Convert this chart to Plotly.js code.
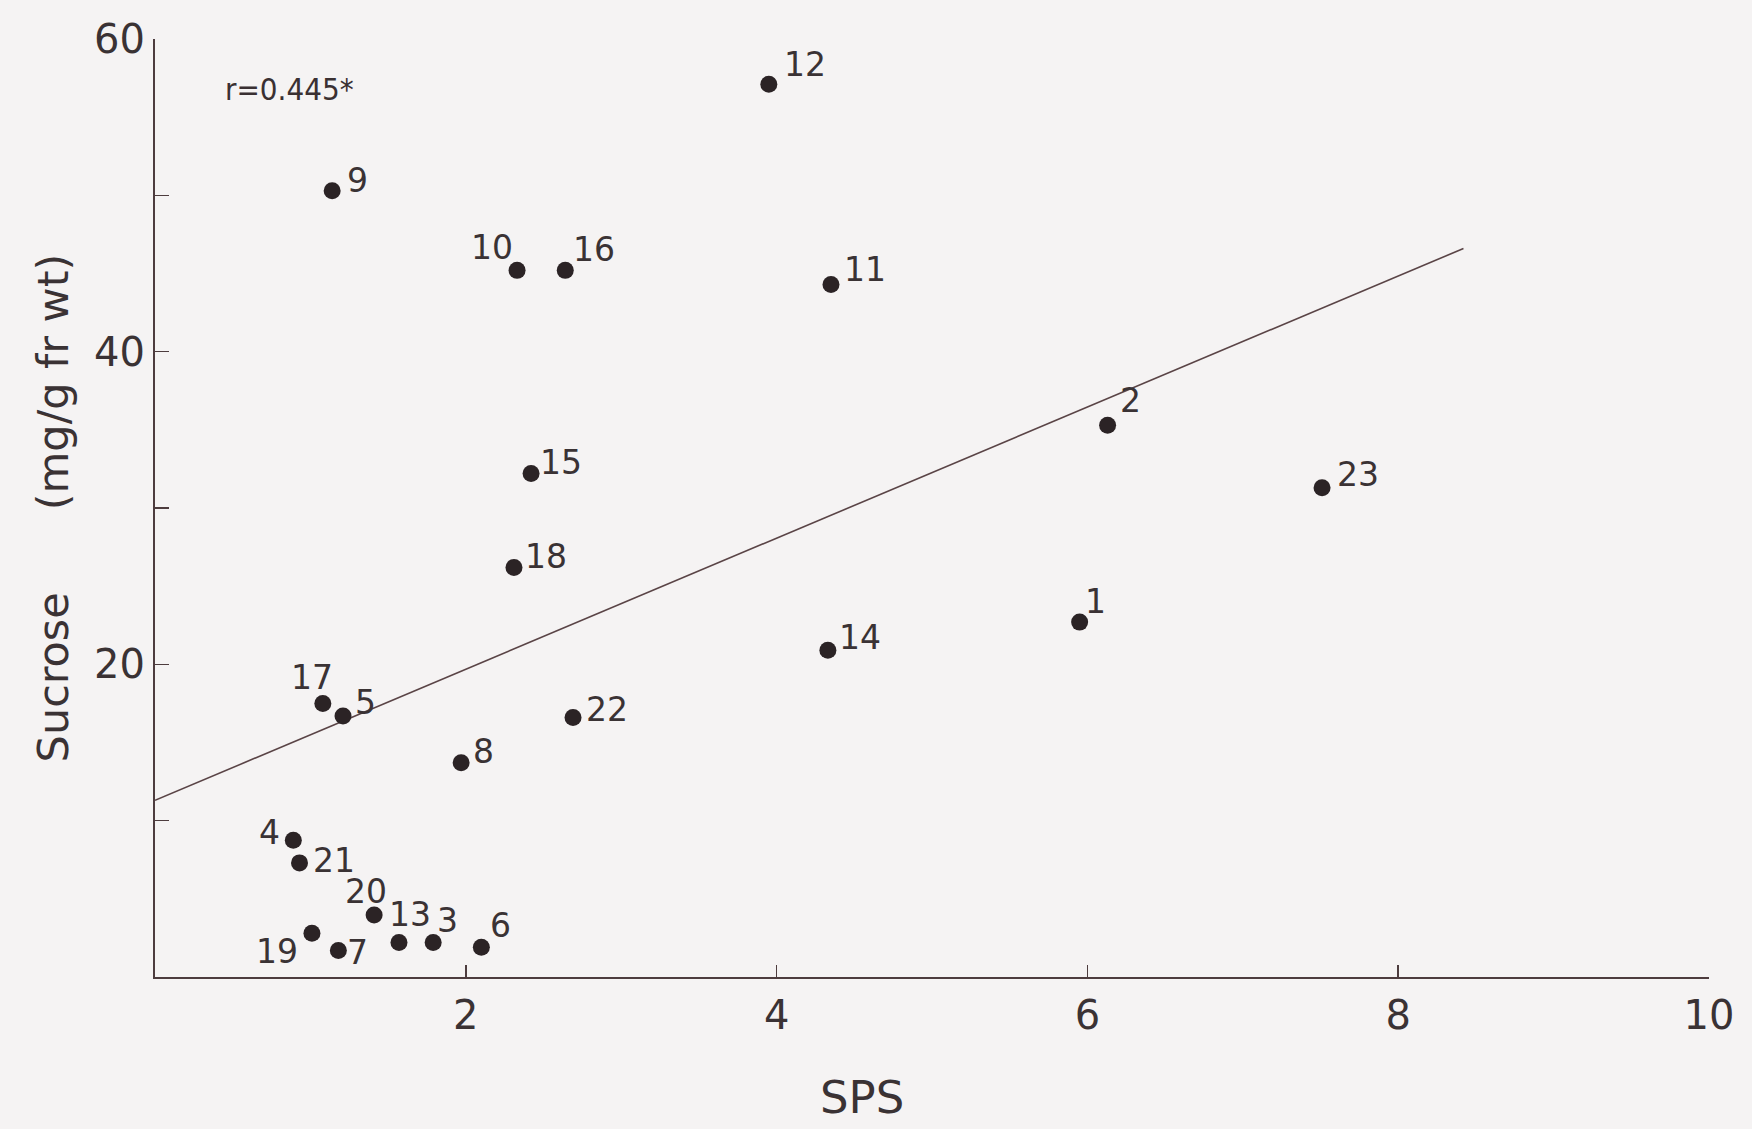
<!DOCTYPE html>
<html>
<head>
<meta charset="utf-8">
<script src="https://cdn.plot.ly/plotly-3.0.1.min.js"></script>
<style>
  html, body { margin: 0; padding: 0; background: #f5f3f3; }
  #chart { width: 1752px; height: 1129px; }
</style>
</head>
<body>
<div id="chart"></div>
<script>
// Sample numbers and their SPS / sucrose readings
const sampleIds = ['1','2','3','4','5','6','7','8','9','10','11','12','13','14','15','16','17','18','19','20','21','22','23'];
const spsValues = [5.95, 6.13, 1.79, 0.89, 1.21, 2.10, 1.18, 1.97, 1.14, 2.33, 4.35, 3.95, 1.57, 4.33, 2.42, 2.64, 1.08, 2.31, 1.01, 1.41, 0.93, 2.69, 7.51];
const sucroseValues = [22.7, 35.3, 2.2, 8.75, 16.7, 1.9, 1.7, 13.7, 50.3, 45.2, 44.3, 57.1, 2.2, 20.9, 32.2, 45.2, 17.5, 26.2, 2.8, 3.96, 7.3, 16.6, 31.3];

// Regression line end points
const fitSps = [0, 8.42];
const fitSucrose = [11.3, 46.6];

const correlationText = 'r=0.445*';
const xTitle = 'SPS';
const yTitle = 'Sucrose' + '\u00a0'.repeat(6) + '(mg/g fr wt)';

// Placement of each sample number next to its dot: [anchor, dx, dy] in px (dy downwards)
const labelPlacement = [
  ['left', 4, -21], ['left', 11, -25], ['left', 3, -22], ['right', -12, -8],
  ['left', 11, -13], ['left', 8, -22], ['left', 8, 2], ['left', 11, -11],
  ['left', 14, -10], ['right', -3, -23], ['left', 12, -15], ['left', 14, -20],
  ['left', -11, -28], ['left', 10, -13], ['left', 8, -11], ['left', 7, -21],
  ['right', 11, -26], ['left', 10, -11], ['right', -13, 18], ['center', -8, -24],
  ['left', 12, -2], ['left', 12, -8], ['left', 14, -13]
];

const ink = '#2b2325';
const axisInk = '#4d3c3e';
const textInk = '#3a3234';
const bg = '#f5f3f3';
const font = 'DejaVu Sans, Liberation Sans, sans-serif';

const traces = [
  {
    x: fitSps, y: fitSucrose,
    mode: 'lines', type: 'scatter',
    line: { color: '#5a4446', width: 1.6 },
    hoverinfo: 'skip', cliponaxis: false
  },
  {
    x: spsValues, y: sucroseValues,
    mode: 'markers', type: 'scatter',
    marker: { size: 17, color: ink },
    cliponaxis: false
  }
];

const sampleLabels = sampleIds.map((id, i) => ({
  x: spsValues[i], y: sucroseValues[i], xref: 'x', yref: 'y',
  text: id, showarrow: false,
  xanchor: labelPlacement[i][0], yanchor: 'middle',
  xshift: labelPlacement[i][1], yshift: -labelPlacement[i][2],
  borderpad: 0,
  font: { family: font, size: 33, color: textInk }
}));

const layout = {
  width: 1752, height: 1129,
  paper_bgcolor: bg, plot_bgcolor: bg,
  showlegend: false,
  margin: { l: 155, r: 43, t: 39, b: 152 },
  font: { family: font, color: textInk },
  xaxis: {
    range: [0, 10],
    tickvals: [2, 4, 6, 8, 10],
    ticktext: ['2', '4', '6', '8', '10'],
    ticks: 'inside', ticklen: 12, tickwidth: 1.5, tickcolor: axisInk,
    showline: true, linecolor: axisInk, linewidth: 2,
    showgrid: false, zeroline: false,
    tickfont: { family: font, size: 40, color: textInk },
    ticklabelstandoff: 2,
    automargin: false
  },
  yaxis: {
    range: [0, 60],
    tickvals: [10, 20, 30, 40, 50, 60],
    ticktext: ['', '20', '', '40', '', '60'],
    ticks: 'inside', ticklen: 14, tickwidth: 1.5, tickcolor: axisInk,
    showline: true, linecolor: axisInk, linewidth: 2,
    showgrid: false, zeroline: false,
    tickfont: { family: font, size: 40, color: textInk },
    ticklabelstandoff: 0,
    title: {
      text: yTitle,
      font: { family: font, size: 43, color: textInk },
      standoff: 12
    },
    automargin: false
  },
  annotations: [
    {
      x: 0.44, y: 56.8, xref: 'x', yref: 'y',
      xanchor: 'left', yanchor: 'middle',
      text: correlationText, showarrow: false,
      font: { family: 'Liberation Sans Narrow, DejaVu Sans Condensed, DejaVu Sans Mono, monospace', size: 31, color: '#3a3032' }
    },
    {
      x: 0.455, y: -0.128, xref: 'paper', yref: 'paper',
      xanchor: 'center', yanchor: 'middle',
      text: xTitle, showarrow: false,
      font: { family: font, size: 45, color: textInk }
    }
  ].concat(sampleLabels)
};

Plotly.newPlot('chart', traces, layout, { displayModeBar: false, staticPlot: true });
</script>
</body>
</html>
